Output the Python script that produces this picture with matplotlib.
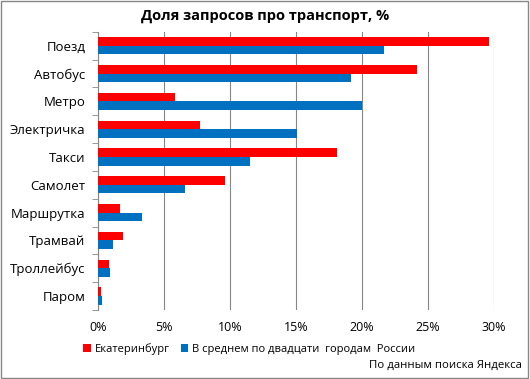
import matplotlib.pyplot as plt
import numpy as np

# Data
categories = ["Поезд", "Автобус", "Метро", "Электричка", "Такси",
              "Самолет", "Маршрутка", "Трамвай", "Троллейбус", "Паром"]
ekb = [29.6, 24.2, 5.8, 7.7, 18.1, 9.6, 1.7, 1.9, 0.8, 0.25]
avg20 = [21.7, 19.2, 20.0, 15.1, 11.5, 6.6, 3.3, 1.1, 0.9, 0.3]
xticks = [0, 5, 10, 15, 20, 25, 30]

plt.rcParams["font.family"] = ["Open Sans", "DejaVu Sans"]

fig = plt.figure(figsize=(5.30, 3.79), dpi=100)
ax = fig.add_axes([0.185, 0.182, 0.747, 0.734])

y = np.arange(len(categories))
h = 0.31
ax.barh(y - h / 2, ekb, height=h, color="#FF0000", label="Екатеринбург", zorder=3)
ax.barh(y + h / 2, avg20, height=h, color="#0070C0",
        label="В среднем по двадцати  городам  России", zorder=3)

ax.set_ylim(len(categories) - 0.5, -0.5)
ax.set_xlim(0, 30)
ax.set_xticks(xticks)
ax.set_xticklabels([f"{t}%" for t in xticks], fontsize=9)
ax.set_yticks(y)
ax.set_yticklabels(categories, fontsize=9.5)
ax.set_yticks(np.arange(len(categories) + 1) - 0.5, minor=True)
ax.tick_params(axis="y", which="major", length=0, pad=9)
ax.tick_params(axis="y", which="minor", length=4, color="#868686")
ax.tick_params(axis="x", length=0, pad=8)
ax.grid(axis="x", color="#868686", linewidth=0.8, zorder=0)

for side in ["top", "right", "bottom"]:
    ax.spines[side].set_visible(False)
ax.spines["left"].set_color("#868686")

fig.suptitle("Доля запросов про транспорт, %", fontsize=10.5, fontweight="bold", y=0.975)

fig.legend(loc="center", bbox_to_anchor=(0.47, 0.079), ncol=2, frameon=False,
           fontsize=8, handlelength=0.7, handleheight=0.7, handletextpad=0.3, columnspacing=1.0)

fig.text(0.985, 0.028, "По данным поиска Яндекса", fontsize=8.2, ha="right")

# outer frame
fig.patches.append(plt.Rectangle((0.002, 0.003), 0.995, 0.994, transform=fig.transFigure,
                                 fill=False, edgecolor="#868686", linewidth=1))

plt.savefig("out.png", dpi=100)
